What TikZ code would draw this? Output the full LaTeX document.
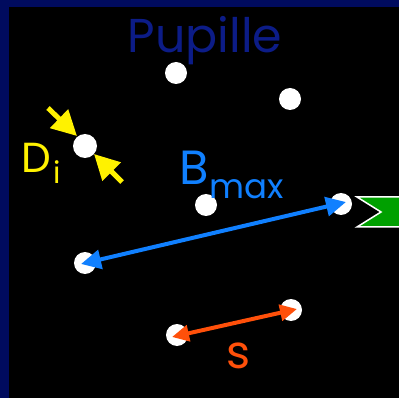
\documentclass[tikz,border=0pt]{standalone}
\usepackage{fontspec}
\setmainfont{Poppins}
\usetikzlibrary{arrows.meta}
\definecolor{framenavy}{RGB}{0,11,94}
\definecolor{titlenavy}{RGB}{12,28,135}
\definecolor{bluearrow}{RGB}{16,128,255}
\definecolor{orangearrow}{RGB}{255,80,10}
\definecolor{greenarrow}{RGB}{0,160,0}
\tikzset{
  hole/.style={circle, fill=white, draw=none, minimum size=22pt, inner sep=0pt},
  bigarrow/.style={line width=4pt, {Triangle[length=20pt,width=19pt]}-{Triangle[length=20pt,width=19pt]}},
  yarrow/.style={line width=5pt, yellow, -{Triangle[length=25pt,width=25pt]}},
  lbl/.style={inner sep=0pt, anchor=base west}
}
\begin{document}
\begin{tikzpicture}[x=1pt,y=-1pt]
\useasboundingbox (0,0) rectangle (399,398);
\fill[framenavy] (0,0) rectangle (399,398);
\fill[black] (9,7) rectangle (399,398);
% title
\node[inner sep=0pt, anchor=base, text=titlenavy, font=\fontsize{47.5}{47.5}\selectfont] (title) at (205,53) {Pupille};
% holes
\node[hole] (h1) at (176,73) {};
\node[hole] (h2) at (290,99) {};
\node[hole, minimum size=24pt] (hd) at (85,146) {};
\node[hole] (h4) at (206,205) {};
\node[hole] (h5) at (341,204) {};
\node[hole] (h6) at (85,263) {};
\node[hole] (h7) at (177,335) {};
\node[hole] (h8) at (291,310) {};
% green notched arrow
\draw[fill=greenarrow, draw=white, line width=1.5pt] (357,197) -- (402,197) -- (402,227) -- (357,227) -- (381,212) -- cycle;
% yellow arrows for D_i
\coordinate (ya) at (48,108);
\coordinate (yb) at (122,182);
\coordinate (yat) at (77,136);
\coordinate (ybt) at (94,154);
\draw[yarrow] (ya) -- (yat);
\draw[yarrow] (yb) -- (ybt);
\node[lbl, text=yellow] (dlabel) at (21,173) {\fontsize{42}{42}\selectfont D\hspace{3pt}\raisebox{-11pt}{\fontsize{30}{30}\selectfont i}};
% blue B_max
\coordinate (bl) at (81,264);
\coordinate (br) at (346,202);
\draw[bigarrow, bluearrow] (bl) -- (br);
\node[lbl, text=bluearrow] (blabel) at (179,185) {\fontsize{48}{48}\selectfont B\hspace{1pt}\raisebox{-14pt}{\fontsize{34}{34}\selectfont max}};
% orange s
\coordinate (ol) at (172,337);
\coordinate (or) at (297,309);
\draw[line width=4pt, orangearrow, {Triangle[length=17pt,width=16pt]}-{Triangle[length=17pt,width=16pt]}] (ol) -- (or);
\node[inner sep=0pt, anchor=base, text=orangearrow, font=\fontsize{46}{46}\selectfont] (slabel) at (239,368) {s};
\end{tikzpicture}
\end{document}
